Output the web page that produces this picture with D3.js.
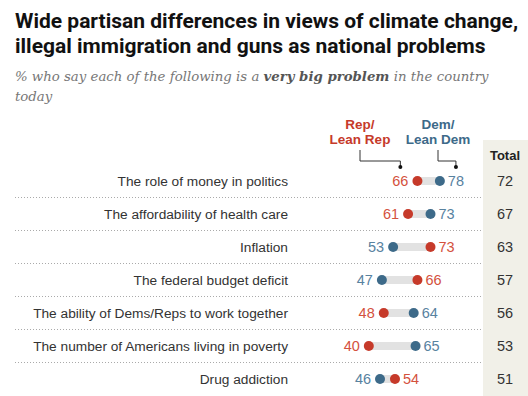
<!DOCTYPE html>
<html>
  <head>
    <meta charset="utf-8">
    <title>partisan problems</title>
    <style>
      body { margin: 0; background: #fff; }
      text { font-family: "Liberation Sans", Arial, sans-serif; }
    </style>
  </head>
  <body>
    <script src="https://cdn.jsdelivr.net/npm/d3@7"></script>
    <script>
      // data
      var problems = [
        "The role of money in politics",
        "The affordability of health care",
        "Inflation",
        "The federal budget deficit",
        "The ability of Dems/Reps to work together",
        "The number of Americans living in poverty",
        "Drug addiction"
      ];
      var rep = [66, 61, 73, 66, 48, 40, 54];
      var dem = [78, 73, 53, 47, 64, 65, 46];
      var total = [72, 67, 63, 57, 56, 53, 51];

      var width = 528, height = 396;
      var repDot = "#c63a2a", demDot = "#3d6a89";
      var repText = "#d4513d", demText = "#58829f";

      var svg = d3.select("body").append("svg")
        .attr("width", width)
        .attr("height", height);

      // title + subtitle
      var title = svg.append("text")
        .style("font-family", "Roboto, 'Liberation Sans', sans-serif")
        .style("font-weight", "bold")
        .style("font-size", "21px")
        .style("fill", "#111");
      title.append("tspan").attr("x", 15).attr("y", 28)
        .text("Wide partisan differences in views of climate change,");
      title.append("tspan").attr("x", 15).attr("y", 53)
        .text("illegal immigration and guns as national problems");

      var sub = svg.append("text")
        .attr("x", 15).attr("y", 81)
        .style("font-family", "'DejaVu Serif', Georgia, serif")
        .style("font-style", "italic")
        .style("font-size", "13.3px")
        .style("fill", "#777");
      sub.append("tspan").text("% who say each of the following is a ");
      sub.append("tspan").style("font-weight", "bold").style("fill", "#555").text("very big problem");
      sub.append("tspan").text(" in the country");
      svg.append("text")
        .attr("x", 15).attr("y", 101)
        .style("font-family", "'DejaVu Serif', Georgia, serif")
        .style("font-style", "italic")
        .style("font-size", "13.3px")
        .style("fill", "#777")
        .text("today");

      // scales
      var x = d3.scaleLinear().domain([0, 100]).range([294, 481]);
      var y = d3.scalePoint().domain(problems).range([181, 379]);
      var step = y.step();

      // total column background
      svg.append("rect")
        .attr("x", 483).attr("y", 140)
        .attr("width", width - 483).attr("height", height - 140)
        .style("fill", "#f1f0e8");

      svg.append("text")
        .attr("x", 505).attr("y", 155)
        .attr("dy", "0.35em")
        .attr("text-anchor", "middle")
        .style("font-weight", "bold")
        .style("font-size", "13px")
        .style("fill", "#222")
        .text("Total");

      // dotted separators
      svg.append("g").selectAll("line")
        .data(problems.slice(1))
        .enter().append("line")
        .attr("x1", 15).attr("x2", 483)
        .attr("y1", d => y(d) - step / 2)
        .attr("y2", d => y(d) - step / 2)
        .style("stroke", "#aaa")
        .style("stroke-width", 1)
        .style("stroke-dasharray", "1,2");

      var rows = svg.append("g").selectAll("g")
        .data(problems)
        .enter().append("g")
        .attr("transform", d => "translate(0," + y(d) + ")");

      rows.append("text")
        .attr("x", 288)
        .attr("dy", "0.35em")
        .attr("text-anchor", "end")
        .style("font-size", "13.7px")
        .style("fill", "#333")
        .text(d => d);

      rows.append("line")
        .attr("x1", (d, i) => x(Math.min(rep[i], dem[i])))
        .attr("x2", (d, i) => x(Math.max(rep[i], dem[i])))
        .style("stroke", "#e2e2e2")
        .style("stroke-width", 8);

      rows.append("circle")
        .attr("cx", (d, i) => x(rep[i]))
        .attr("r", 5)
        .style("fill", repDot);
      rows.append("circle")
        .attr("cx", (d, i) => x(dem[i]))
        .attr("r", 5)
        .style("fill", demDot);

      // value labels: left of the lower dot, right of the higher one
      function valueLabel(vals, other, color) {
        return rows.append("text")
          .attr("x", (d, i) => vals[i] < other[i] ? x(vals[i]) - 9 : x(vals[i]) + 8)
          .attr("dy", "0.35em")
          .attr("text-anchor", (d, i) => vals[i] < other[i] ? "end" : "start")
          .style("font-size", "14.5px")
          .style("fill", color)
          .text((d, i) => vals[i]);
      }
      var repLabels = valueLabel(rep, dem, repText);
      var demLabels = valueLabel(dem, rep, demText);

      rows.append("text")
        .attr("x", 505)
        .attr("dy", "0.35em")
        .attr("text-anchor", "middle")
        .style("font-size", "14.5px")
        .style("fill", "#333")
        .text((d, i) => total[i]);

      // legend with leader lines to the first row's labels
      function legend(lines, cx, color, labelNode) {
        var b = labelNode.getBBox();
        var tx = b.x + b.width / 2;
        var t = svg.append("text")
          .attr("text-anchor", "middle")
          .style("font-weight", "bold")
          .style("font-size", "13.5px")
          .style("fill", color);
        lines.forEach(function(s, k) {
          t.append("tspan").attr("x", cx).attr("y", 129 + k * 15).text(s);
        });
        svg.append("path")
          .attr("d", "M" + cx + ",150V161H" + tx + "V167")
          .style("fill", "none")
          .style("stroke", "#333")
          .style("stroke-width", 1);
        svg.append("circle")
          .attr("cx", tx).attr("cy", 167).attr("r", 2)
          .style("fill", "#111");
      }
      legend(["Rep/", "Lean Rep"], 360, repDot, repLabels.nodes()[0]);
      legend(["Dem/", "Lean Dem"], 438, demDot, demLabels.nodes()[0]);
    </script>
  </body>
</html>
